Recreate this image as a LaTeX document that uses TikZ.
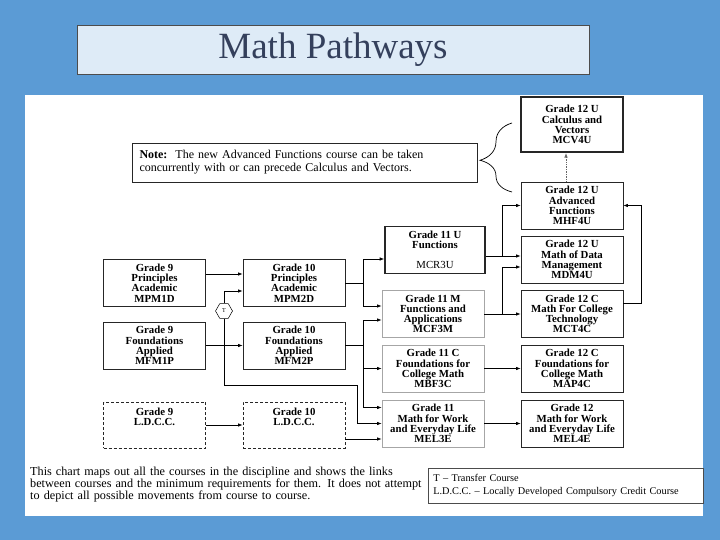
\documentclass[tikz,border=0pt]{standalone}
\usepackage{fontspec}
\setmainfont{Liberation Serif}
\usetikzlibrary{arrows.meta,shapes.geometric,decorations.pathreplacing}
\definecolor{slideblue}{RGB}{91,155,213}
\definecolor{titlefill}{RGB}{222,235,247}
\definecolor{titleink}{RGB}{52,64,92}
\tikzset{
  course/.style={draw=black!85, line width=0.8pt, fill=white, minimum width=102pt,
    minimum height=47pt, inner sep=1pt, align=center,
    font=\bfseries\fontsize{10.8}{10.2}\selectfont},
  strongcourse/.style={course, line width=1.6pt},
  palecourse/.style={course, draw=black!35},
  ldcccourse/.style={course, dash pattern=on 3pt off 2pt, minimum height=46pt},
  ldcctext/.style={anchor=north, align=center, yshift=-3pt,
    font=\bfseries\fontsize{10.8}{9.5}\selectfont},
  feed/.style={line width=0.7pt},
  link/.style={feed, -{Latex[length=4.5pt,width=3.5pt]}},
}

\begin{document}
\begin{tikzpicture}[x=1pt, y=-1pt]
\useasboundingbox (0,0) rectangle (720,540);
\fill[slideblue] (0,0) rectangle (720,540);
\fill[white] (25,95) rectangle (703,516);

\node[draw=black!70, fill=titlefill, minimum width=512pt, minimum height=49pt,
  text=titleink, font=\fontsize{37}{40}\selectfont] (title) at (333,49.5) {Math Pathways};

\node[draw=black!85, line width=0.8pt, minimum height=35pt, text width=330pt,
  inner sep=7.5pt, align=left, font=\fontsize{12}{13}\selectfont] (note) at (304.5,162.5)
  {\textbf{Note:}\ \ The new Advanced Functions course can be taken\\
   concurrently with or can precede Calculus and Vectors.};

\node[course] (g9a) at (154.5,283) {Grade 9\\Principles\\Academic\\MPM1D};
\node[course] (g9p) at (154.5,345.5) {Grade 9\\Foundations\\Applied\\MFM1P};
\node[ldcccourse, label={[ldcctext]north:{Grade 9\\L.D.C.C.}}] (g9l) at (154.5,425) {};

\node[course] (g10a) at (294,283) {Grade 10\\Principles\\Academic\\MPM2D};
\node[course] (g10p) at (294,345.5) {Grade 10\\Foundations\\Applied\\MFM2P};
\node[ldcccourse, label={[ldcctext]north:{Grade 10\\L.D.C.C.}}] (g10l) at (294,425) {};

\node[draw, regular polygon, regular polygon sides=6, minimum size=17pt, inner sep=0pt,
  fill=white, line width=0.5pt, font=\fontsize{6}{6}\selectfont] (tnode) at (224,311) {T};

\node[strongcourse, minimum width=100pt] (mcr) at (435,250) {Grade 11 U\\Functions\\[10pt]{\mdseries MCR3U}};
\node[palecourse] (mcf) at (433,314) {Grade 11 M\\Functions and\\Applications\\MCF3M};
\node[palecourse] (mbf) at (433,368.5) {Grade 11 C\\Foundations for\\College Math\\MBF3C};
\node[palecourse] (mel3) at (433,423.5) {Grade 11\\Math for Work\\and Everyday Life\\MEL3E};

\node[strongcourse, line width=2.2pt, minimum height=55pt] (mcv) at (572,124.5) {Grade 12 U\\Calculus and\\Vectors\\MCV4U};
\node[course] (mhf) at (572,205.5) {Grade 12 U\\Advanced\\Functions\\MHF4U};
\node[course] (mdm) at (572,259.5) {Grade 12 U\\Math of Data\\Management\\MDM4U};
\node[course] (mct) at (572,314) {Grade 12 C\\Math For College\\Technology\\MCT4C};
\node[course] (map) at (572,368.5) {Grade 12 C\\Foundations for\\College Math\\MAP4C};
\node[course] (mel4) at (572,423.5) {Grade 12\\Math for Work\\and Everyday Life\\MEL4E};

\coordinate (bracebot) at (512,192);
\coordinate (bracetop) at (512,123);
\draw[line width=0.7pt, decorate, decoration={brace, amplitude=32pt, aspect=0.46}] (bracebot) -- (bracetop);

\draw[link] ([yshift=9pt]g9a.east) -- ([yshift=9pt]g10a.west);
\draw[link] (g9p) -- (g10p);
\draw[link] (g9l) -- (g10l);
\draw[link] (tnode) |- ([yshift=-8pt]g10a.west);
\coordinate (tbend) at (357,385);
\draw[link] (tnode) |- (tbend) |- (mel3);

\draw[feed] (g10a.east) -- ++(18,0) coordinate (ja);
\draw[link] (ja) |- ([yshift=-9pt]mcr.west);
\draw[link] (ja) |- ([yshift=8pt]mcf.west);
\draw[feed] (g10p.east) -- ++(18,0) coordinate (jp);
\draw[link] (jp) |- ([yshift=-6pt]mcf.west);
\draw[link] (jp) |- (mbf.west);
\draw[link] (jp) |- ([yshift=16pt]mel3.west);
\draw[link] ([yshift=-14pt]g10l.east) -- ([yshift=-14pt]g10l.east -| mel3.west);

\draw[link] ([yshift=-6pt]mcr.east) -- ([yshift=-6pt]mcr.east -| mdm.west);
\coordinate (jr) at ([yshift=-6pt,xshift=17pt]mcr.east);
\draw[link] (jr) |- (mhf.west);
\draw[link] (mcf) -- (mct);
\coordinate (jf) at ([xshift=18pt]mcf.east);
\draw[link] (jf) |- ([yshift=-7.5pt]mdm.west);
\draw[link] (mbf) -- (map);
\draw[link] (mel3) -- (mel4);
\draw[link] ([yshift=11pt]mct.east) -- ++(18,0) |- (mhf.east);
\draw[link, densely dotted, black!60] ([xshift=-6pt]mhf.north) -- ([xshift=-6pt]mcv.south);

\node[anchor=north west, text width=420pt, align=left, inner sep=0pt,
  font=\fontsize{12.2}{12}\selectfont] (caption) at (30,467)
  {This chart maps out all the courses in the discipline and shows the links\\
   between courses and the minimum requirements for them. It does not attempt\\
   to depict all possible movements from course to course.};
\node[draw=black!70, line width=0.6pt, anchor=north west, minimum width=275pt,
  minimum height=35pt, text width=265pt, align=left,
  font=\fontsize{10.3}{13}\selectfont] (legend) at (428,468)
  {T -- Transfer Course\\L.D.C.C. -- Locally Developed Compulsory Credit Course};
\end{tikzpicture}
\end{document}
